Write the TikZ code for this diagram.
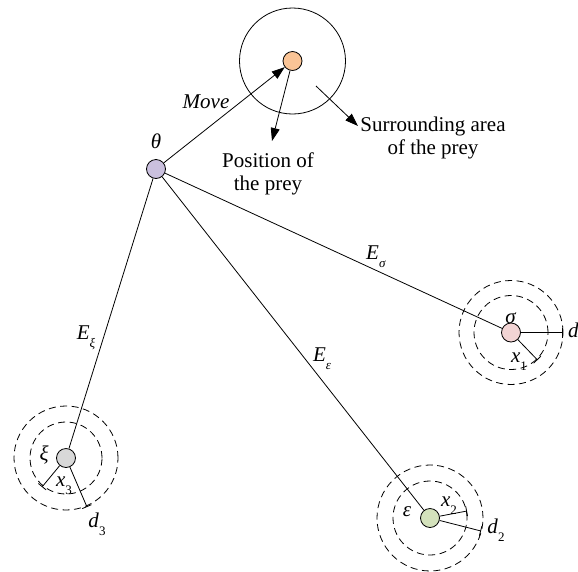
\documentclass[tikz,border=0pt]{standalone}
\usepackage{fontspec}
\setmainfont{Liberation Serif}
\usetikzlibrary{arrows.meta}
\definecolor{preyc}{RGB}{250,196,150}
\definecolor{thetac}{RGB}{202,192,222}
\definecolor{sigc}{RGB}{242,212,212}
\definecolor{epsc}{RGB}{212,226,188}
\definecolor{xic}{RGB}{216,216,216}
\newcommand\sbx[2]{\textit{#1}\raisebox{-0.38em}{\fontsize{13}{13}\selectfont #2}}
\begin{document}
\begin{tikzpicture}[x=1pt,y=-1pt,
  agent/.style={circle,draw,line width=0.8pt,minimum size=19pt,inner sep=0pt},
  link/.style={line width=0.8pt},
  arr/.style={line width=0.8pt,-{Triangle[length=13pt,width=9pt]}},
  ring/.style={line width=0.8pt,dash pattern=on 7pt off 4.5pt},
  bartip/.style={line width=0.8pt,-{Bar[width=10pt]}},
  lbl/.style={inner sep=0pt,font=\fontsize{21}{22}\selectfont},
  txt/.style={inner sep=0pt,align=center,font=\fontsize{21}{23}\selectfont}]
\useasboundingbox (0,0) rectangle (578,571);
% nodes
\node[agent,fill=preyc] (prey) at (292.5,61) {};
\node[agent,fill=thetac] (theta) at (156,169) {};
\node[agent,fill=sigc] (sig) at (511,332.5) {};
\node[agent,fill=epsc] (eps) at (430,518) {};
\node[agent,fill=xic] (xi) at (66,458) {};
% surrounding circle
\draw[link] (prey) circle[radius=53pt];
% dashed rings
\draw[ring] (sig) circle[radius=37pt];
\draw[ring] (sig) circle[radius=52pt];
\draw[ring] (eps) circle[radius=37pt];
\draw[ring] (eps) circle[radius=53pt];
\draw[ring] (xi) circle[radius=36pt];
\draw[ring] (xi) circle[radius=52pt];
% coordinates
\coordinate (posend) at (272,141);
\coordinate (sa1) at (316,86);
\coordinate (sa2) at (358,126);
\coordinate (d1e) at (563,332.5);
\coordinate (x1e) at (537.5,360);
\coordinate (x2e) at (467,511);
\coordinate (d2e) at (481,531);
\coordinate (x3e) at (42,487);
\coordinate (d3e) at (87,507);
% connectors
\draw[arr] (theta) -- (prey);
\draw[arr] (prey) -- (posend);
\draw[arr] (sa1) -- (sa2);
\draw[link] (theta) -- (sig);
\draw[link] (theta) -- (eps);
\draw[link] (theta) -- (xi);
\draw[bartip] (sig) -- (d1e);
\draw[bartip] (sig) -- (x1e);
\draw[bartip] (eps) -- (x2e);
\draw[bartip] (eps) -- (d2e);
\draw[bartip] (xi) -- (x3e);
\draw[bartip] (xi) -- (d3e);
% texts
\node[lbl] (tmove) at (206,102) {\textit{Move}};
\node[txt] (tpos) at (268,174) {Position of\\the prey};
\node[txt] (tsur) at (433,138) {Surrounding area\\of the prey};
\node[lbl] (ttheta) at (156,141) {\textit{θ}};
\node[lbl] (tsig) at (511,318) {\textit{σ}};
\node[lbl] (teps) at (407,512) {\textit{ε}};
\node[lbl] (txi) at (44,455) {\textit{ξ}};
\node[lbl] (tEs) at (376,257) {\sbx{E}{\textit{σ}}};
\node[lbl] (tEe) at (322,359) {\sbx{E}{\textit{ε}}};
\node[lbl] (tEx) at (86,338) {\sbx{E}{\textit{ξ}}};
\node[lbl,anchor=west] (td1) at (568,334) {\sbx{d}{1}};
\node[lbl] (tx1) at (519,362) {\sbx{x}{1}};
\node[lbl] (tx2) at (449,506) {\sbx{x}{2}};
\node[lbl] (td2) at (496,530) {\sbx{d}{2}};
\node[lbl] (tx3) at (64,486) {\sbx{x}{3}};
\node[lbl] (td3) at (97,524) {\sbx{d}{3}};
\end{tikzpicture}
\end{document}
